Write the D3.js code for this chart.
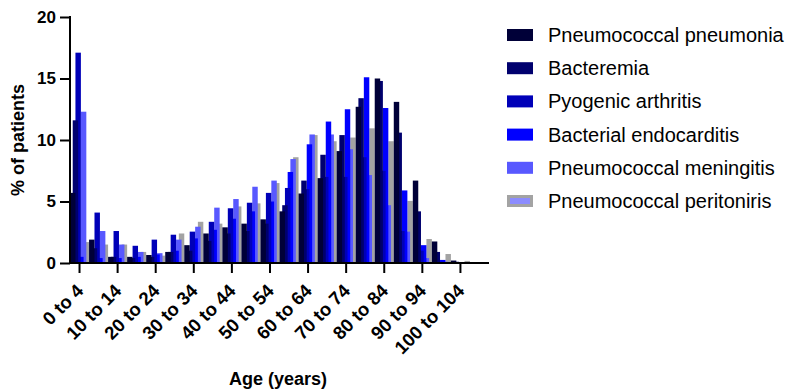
<!DOCTYPE html>
<html><head><meta charset="utf-8">
<script src="https://cdn.jsdelivr.net/npm/d3@7"></script>
<style>
body{margin:0;background:#fff}
svg{display:block}
text{font-family:"Liberation Sans",Arial,Helvetica,sans-serif;fill:#000}
</style>
</head><body>
<svg id="chart" width="787" height="391"></svg>
<script>
const ageGroups = ["0 to 4","5 to 9","10 to 14","15 to 19","20 to 24","25 to 29","30 to 34","35 to 39","40 to 44","45 to 49","50 to 54","55 to 59","60 to 64","65 to 69","70 to 74","75 to 79","80 to 84","85 to 89","90 to 94","95 to 99","100 to 104","105 to 109"];
const tickLabels = ["0 to 4","10 to 14","20 to 24","30 to 34","40 to 44","50 to 54","60 to 64","70 to 74","80 to 84","90 to 94","100 to 104"];
const yTicks = [0,5,10,15,20];
const seriesNames = ["Pneumococcal pneumonia","Bacteremia","Pyogenic arthritis","Bacterial endocarditis","Pneumococcal meningitis","Pneumococcal peritoniris"];
const pneumonia    = [5.7,1.9,0.5,0.5,0.65,0.9,1.45,2.4,2.9,3.2,3.55,4.2,5.65,6.9,9.1,12.7,15.0,13.1,6.7,1.75,0.2,0];
const bacteremia   = [11.6,1.2,0.5,0.4,0.5,0.9,1.0,1.8,2.4,2.6,3.2,4.7,6.7,8.8,10.4,13.4,14.8,10.6,4.2,0.9,0.1,0];
const pyogenic     = [17.1,4.1,2.6,1.4,1.9,2.3,2.55,3.35,4.45,4.9,5.7,6.1,6.0,7.0,7.0,8.6,7.5,2.6,1.0,0.1,0,0];
const endocarditis = [0.5,0.4,0.4,0.5,0.7,1.0,2.0,2.7,3.6,4.2,5.0,7.4,9.65,11.5,12.5,15.1,12.6,5.9,1.45,0.25,0,0];
const meningitis   = [12.3,2.6,1.5,0.9,0.8,1.9,2.95,4.5,5.2,6.2,6.7,8.45,10.45,10.45,9.25,7.15,4.7,2.55,0.4,0.1,0,0];
const peritonitis  = [1.7,1.5,1.5,0.9,0.6,2.4,3.35,3.2,4.6,4.85,6.5,8.6,10.4,9.9,10.2,10.95,9.9,5.05,1.95,0.73,0.17,0];
const seriesValues = [pneumonia,bacteremia,pyogenic,endocarditis,meningitis,peritonitis];
const colors = ["#000038","#00006e","#0000b8","#0000ff","#5858ff","#a3a3a3"];

const svg = d3.select("#chart");
const x = d3.scaleBand().domain(ageGroups).range([70, 489]).padding(0);
const y = d3.scaleLinear().domain([0, 20]).range([263, 17]);
const slot = x.bandwidth() / 7;

const series = seriesNames.map((name, i) => ({name, i, values: seriesValues[i]}));

// draw later series first so earlier series sit on top
const g = svg.append("g");
series.slice().reverse().forEach(s => {
  g.selectAll(null).data(s.values.map((v, k) => ({v, cat: ageGroups[k]})))
    .enter().append("rect")
    .attr("x", d => x(d.cat) + s.i * slot)
    .attr("width", slot * 2)
    .attr("y", d => y(d.v))
    .attr("height", d => y(0) - y(d.v))
    .attr("fill", colors[s.i]);
});

// Y axis
const yAxis = svg.append("g").attr("transform", "translate(70,0)")
  .call(d3.axisLeft(y).tickValues(yTicks).tickSize(10).tickPadding(4).tickFormat(d3.format("d")));
yAxis.select(".domain").attr("stroke", "#000").attr("stroke-width", 2).attr("d", "M0,16V264");
yAxis.selectAll(".tick line").attr("stroke", "#000").attr("stroke-width", 2);
yAxis.selectAll(".tick text").style("font-size", "17px").style("font-weight", "bold").attr("fill", "#000");

// X axis
const xAxis = svg.append("g").attr("transform", "translate(0,263)")
  .call(d3.axisBottom(x).tickValues(tickLabels).tickSize(10).tickSizeOuter(0));
xAxis.select(".domain").attr("stroke", "#000").attr("stroke-width", 2).attr("d", "M69,0H489");
xAxis.selectAll(".tick line").attr("stroke", "#000").attr("stroke-width", 2);
xAxis.selectAll(".tick text")
  .style("font-size", "18.5px").style("font-weight", "bold").attr("fill", "#000")
  .attr("text-anchor", "end")
  .attr("dy", null).attr("y", 0)
  .attr("transform", "translate(5,29) rotate(-45)");

// axis titles
svg.append("text").attr("x", 278).attr("y", 385).attr("text-anchor", "middle")
  .style("font-size", "18px").style("font-weight", "bold").text("Age (years)");
svg.append("text").attr("transform", "translate(24,140) rotate(-90)").attr("text-anchor", "middle")
  .style("font-size", "18px").style("font-weight", "bold").text("% of patients");

// legend
const lg = svg.append("g");
series.forEach((s, i) => {
  const cy = 35 + i * 33.2;
  if (i === 5) {
    lg.append("rect").attr("x", 507).attr("y", cy - 6).attr("width", 26).attr("height", 12).attr("fill", colors[5]);
    lg.append("rect").attr("x", 510).attr("y", cy - 3).attr("width", 20).attr("height", 6).attr("fill", "#8c8cff");
  } else {
    lg.append("rect").attr("x", 507).attr("y", cy - 6).attr("width", 26).attr("height", 12).attr("fill", colors[i]);
  }
  lg.append("text").attr("x", 548).attr("y", cy + 7).style("font-size", "20px").text(s.name);
});
</script>
</body></html>
